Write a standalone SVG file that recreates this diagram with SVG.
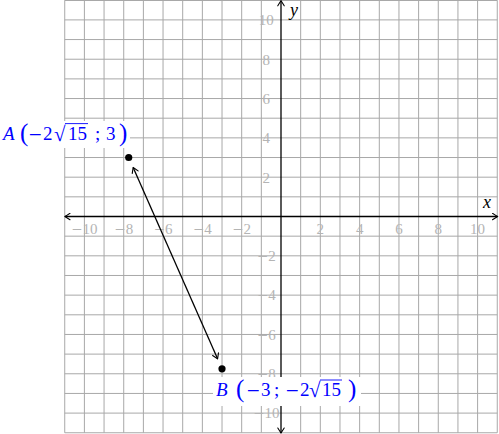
<svg xmlns="http://www.w3.org/2000/svg" width="499" height="434" viewBox="0 0 499 434">
<style>
.grid{fill:none;stroke:#a8a8a8;stroke-width:1}
.axis{fill:none;stroke:#000;stroke-width:1.3}
.tick{font-family:"Liberation Serif","Times New Roman",serif;font-size:15px;fill:#b4b4b4}
.tx{text-anchor:middle}
.m{font-family:"DejaVu Serif",serif;font-size:0.9em}
.lbl{font-family:"Liberation Serif","Times New Roman",serif;font-size:19px;fill:#0000ff}
.it{font-style:italic}
.par{font-size:25px}
.rad{font-size:21px}
.axl{font-family:"Liberation Serif","Times New Roman",serif;font-size:18px;font-style:italic;fill:#000}
.vin{stroke:#0000ff;stroke-width:0.9}
.seg{fill:none;stroke:#000;stroke-width:1.3}
</style>
<defs>
<marker id="tip" viewBox="-6 -4 7 8" markerWidth="7" markerHeight="8" refX="0" refY="0" orient="auto-start-reverse" markerUnits="userSpaceOnUse">
<path d="M-5 -3.2 Q-1.2 -0.8 0 0 Q-1.2 0.8 -5 3.2" fill="none" stroke="#000" stroke-width="1.1" stroke-linecap="round"/>
</marker>
</defs>
<g id="grid">
<path class="grid" d="M64.74 0.24V432.76M84.4 0.24V432.76M104.06 0.24V432.76M123.72 0.24V432.76M143.38 0.24V432.76M163.04 0.24V432.76M182.7 0.24V432.76M202.36 0.24V432.76M222.02 0.24V432.76M241.68 0.24V432.76M261.34 0.24V432.76M300.66 0.24V432.76M320.32 0.24V432.76M339.98 0.24V432.76M359.64 0.24V432.76M379.3 0.24V432.76M398.96 0.24V432.76M418.62 0.24V432.76M438.28 0.24V432.76M457.94 0.24V432.76M477.6 0.24V432.76M497.26 0.24V432.76"/>
<path class="grid" d="M64.74 0.5H497.26M64.74 19.9H497.26M64.74 39.56H497.26M64.74 59.22H497.26M64.74 78.88H497.26M64.74 98.54H497.26M64.74 118.2H497.26M64.74 137.86H497.26M64.74 157.52H497.26M64.74 177.18H497.26M64.74 196.84H497.26M64.74 236.16H497.26M64.74 255.82H497.26M64.74 275.48H497.26M64.74 295.14H497.26M64.74 314.8H497.26M64.74 334.46H497.26M64.74 354.12H497.26M64.74 373.78H497.26M64.74 393.44H497.26M64.74 413.1H497.26M64.74 432.76H497.26"/>
</g>
<g id="axes">
<line class="axis" x1="65" y1="216.5" x2="497.5" y2="216.5" marker-start="url(#tip)" marker-end="url(#tip)"/>
<line class="axis" x1="281" y1="0.8" x2="281" y2="433" marker-start="url(#tip)" marker-end="url(#tip)"/>
<text class="axl" x="483" y="208">x</text>
<text class="axl" x="290" y="16">y</text>
</g>
<g id="ticks" class="tick">
<text class="tx" x="84.4" y="233.5"><tspan class="m">−</tspan>10</text>
<text class="tx" x="123.72" y="233.5"><tspan class="m">−</tspan>8</text>
<text class="tx" x="163.04" y="233.5"><tspan class="m">−</tspan>6</text>
<text class="tx" x="202.36" y="233.5"><tspan class="m">−</tspan>4</text>
<text class="tx" x="241.68" y="233.5"><tspan class="m">−</tspan>2</text>
<text class="tx" x="320.32" y="233.5">2</text>
<text class="tx" x="359.64" y="233.5">4</text>
<text class="tx" x="398.96" y="233.5">6</text>
<text class="tx" x="438.28" y="233.5">8</text>
<text class="tx" x="477.6" y="233.5">10</text>
<text class="tx" x="266.3" y="25.2">10</text>
<text class="tx" x="266.3" y="64.5">8</text>
<text class="tx" x="266.3" y="103.8">6</text>
<text class="tx" x="266.3" y="143.2">4</text>
<text class="tx" x="266.3" y="182.5">2</text>
<text class="tx" x="266.3" y="261.1"><tspan class="m">−</tspan>2</text>
<text class="tx" x="266.3" y="300.4"><tspan class="m">−</tspan>4</text>
<text class="tx" x="266.3" y="339.8"><tspan class="m">−</tspan>6</text>
<text class="tx" x="266.3" y="379.1"><tspan class="m">−</tspan>8</text>
<text class="tx" x="266.3" y="418.4"><tspan class="m">−</tspan>10</text>
</g>
<g id="connectors">
<line class="seg" x1="133.16" y1="167.58" x2="217.58" y2="358.72" marker-start="url(#tip)" marker-end="url(#tip)"/>
</g>
<g id="pointA">
<circle cx="128.72" cy="157.52" r="3.6" fill="#000"/>
<rect x="0" y="121" width="130" height="27" fill="#fff"/>
<text class="lbl" y="140"><tspan class="it" x="3">A</tspan><tspan class="par" x="20" y="141">(</tspan><tspan class="m" x="28" y="140">−</tspan><tspan x="43">2</tspan><tspan class="rad" x="54" y="141">√</tspan><tspan x="68" y="140">15</tspan><tspan x="95">;</tspan><tspan x="106">3</tspan><tspan class="par" x="119" y="141">)</tspan></text>
<line class="vin" x1="65" y1="123.6" x2="88" y2="123.6"/>
</g>
<g id="pointB">
<circle cx="222.02" cy="368.78" r="3.6" fill="#000"/>
<rect x="213" y="377" width="148" height="29" fill="#fff"/>
<text class="lbl" y="396"><tspan class="it" x="216">B</tspan><tspan class="par" x="236" y="397">(</tspan><tspan class="m" x="246" y="396">−</tspan><tspan x="261">3</tspan><tspan x="274">;</tspan><tspan class="m" x="285">−</tspan><tspan x="300">2</tspan><tspan class="rad" x="309" y="397">√</tspan><tspan x="322" y="396">15</tspan><tspan class="par" x="348" y="397">)</tspan></text>
<line class="vin" x1="320" y1="380" x2="342" y2="380"/>
</g>
</svg>
